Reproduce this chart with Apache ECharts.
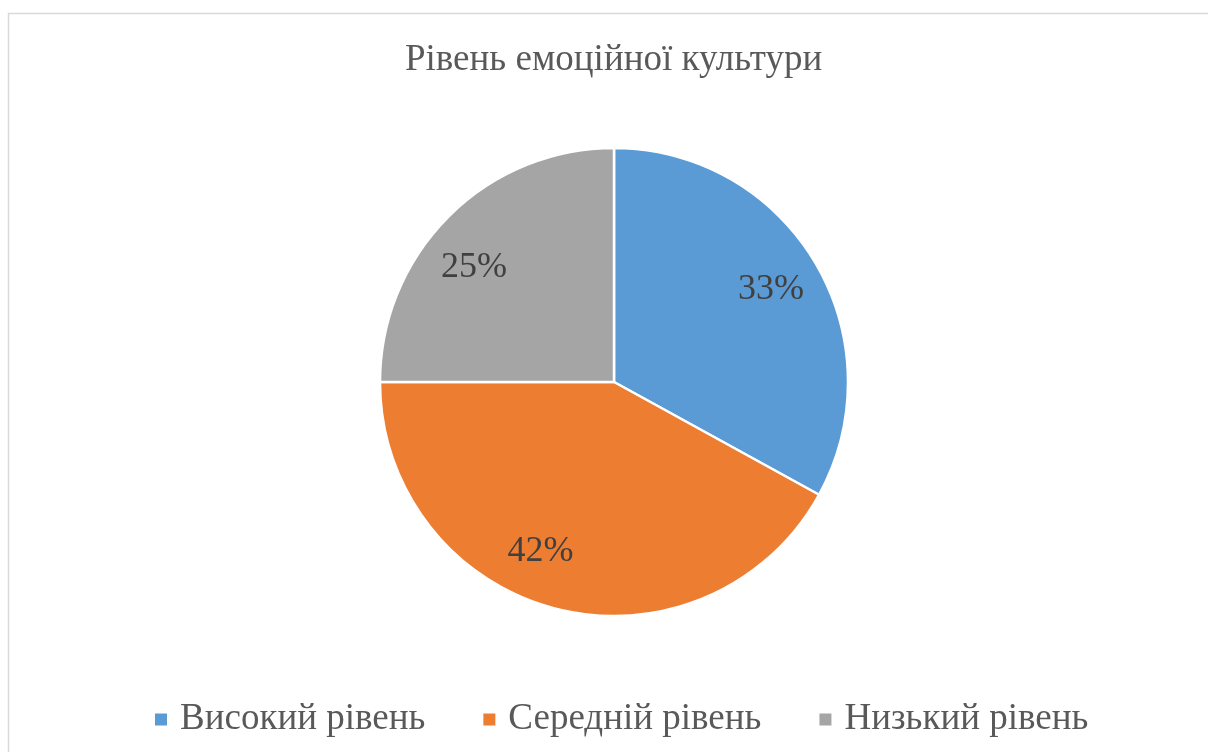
<!DOCTYPE html>
<html>
<head>
<meta charset="utf-8">
<script src="https://cdn.jsdelivr.net/npm/echarts@6/dist/echarts.min.js"></script>
<style>
html,body{margin:0;padding:0;background:#fff;}
#c{width:1208px;height:752px;}
</style>
</head>
<body>
<div id="c"></div>
<script>
const titleText = 'Рівень емоційної культури';
const categories = ['Високий рівень', 'Середній рівень', 'Низький рівень'];
const values = [33, 42, 25];
const colors = ['#5b9bd5', '#ed7d31', '#a5a5a5'];

const CX = 614, CY = 382, R = 234;
const LABEL_FRAC = 0.78;
// small per-label placement nudges (px) mimicking the original "best fit" placement
const labelNudge = [[0, 0], [-28, -7], [-11, 15]];

const chart = echarts.init(document.getElementById('c'));
chart.setOption({
  backgroundColor: '#ffffff',
  animation: false,
  color: colors,
  graphic: [{
    type: 'rect',
    shape: { x: 8.5, y: 13.5, width: 1260, height: 800 },
    style: { fill: 'none', stroke: '#d9d9d9', lineWidth: 1.5 },
    silent: true
  }],
  title: {
    text: titleText,
    left: 400,
    top: 37,
    textStyle: { fontFamily: 'Liberation Serif', fontSize: 37, fontWeight: 'normal', color: '#595959' }
  },
  legend: {
    top: 696,
    left: 148,
    itemWidth: 14,
    itemHeight: 14,
    itemGap: 56,
    icon: 'rect',
    textStyle: { fontFamily: 'Liberation Serif', fontSize: 37, color: '#595959', padding: [0, 0, 0, 7] },
    data: categories
  },
  series: [{
    type: 'pie',
    center: [CX, CY],
    radius: [0, R],
    startAngle: 90,
    clockwise: true,
    itemStyle: { borderColor: '#ffffff', borderWidth: 2.5 },
    label: {
      show: true,
      position: 'inside',
      formatter: function (p) { return p.value + '%'; },
      fontFamily: 'Liberation Serif',
      fontSize: 36,
      color: '#404040'
    },
    labelLine: { show: false },
    emphasis: { disabled: true },
    labelLayout: function (p) {
      const lr = p.labelRect;
      const lx = lr.x + lr.width / 2, ly = lr.y + lr.height / 2;
      const dx = lx - CX, dy = ly - CY;
      const d = Math.sqrt(dx * dx + dy * dy) || 1;
      const s = (LABEL_FRAC * R) / d;
      const n = labelNudge[p.dataIndex] || [0, 0];
      return { x: CX + dx * s + n[0], y: CY + dy * s + n[1], align: 'center', verticalAlign: 'middle' };
    },
    data: categories.map((n, i) => ({ name: n, value: values[i] }))
  }]
});
</script>
</body>
</html>
